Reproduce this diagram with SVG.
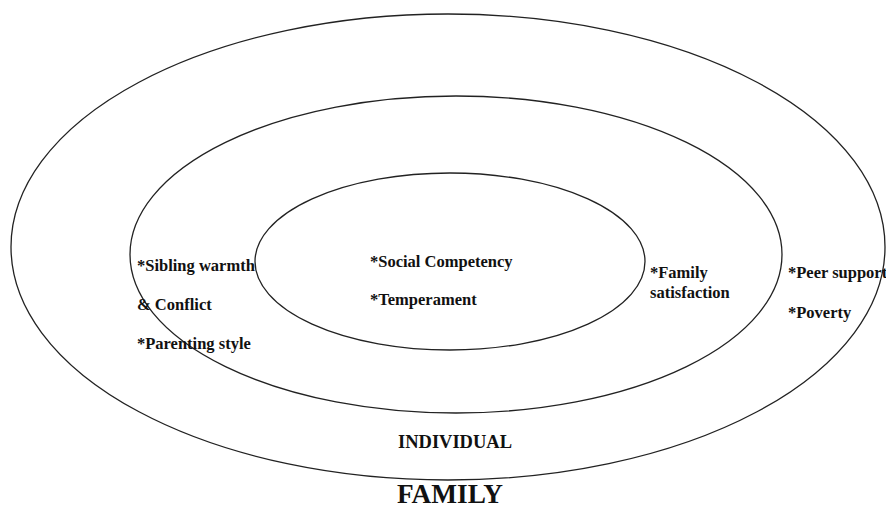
<svg xmlns="http://www.w3.org/2000/svg" width="886" height="509" viewBox="0 0 886 509">
  <style>
    .ring { fill: none; stroke: #222; stroke-width: 1.3; }
    .lbl { font-family: "Liberation Serif", "Times New Roman", serif; font-weight: bold; font-size: 16.5px; fill: #111; }
    .lvl { font-family: "Liberation Serif", "Times New Roman", serif; font-weight: bold; fill: #111; }
  </style>
  <rect width="886" height="509" fill="#fff"/>

  <!-- outer ring: family context -->
  <g id="family">
    <ellipse class="ring" cx="448" cy="247" rx="437" ry="233"/>
    <text class="lbl" x="788" y="278">*Peer support</text>
    <text class="lbl" x="788" y="318">*Poverty</text>
    <text class="lvl" x="397" y="503" font-size="27" textLength="106" lengthAdjust="spacingAndGlyphs">FAMILY</text>
  </g>

  <!-- middle ring: individual -->
  <g id="individual">
    <ellipse class="ring" cx="456" cy="254.5" rx="326" ry="158.5"/>
    <text class="lbl" x="137" y="271">*Sibling warmth</text>
    <text class="lbl" x="137" y="310">&amp; Conflict</text>
    <text class="lbl" x="137" y="349">*Parenting style</text>
    <text class="lbl" x="650" y="278">*Family</text>
    <text class="lbl" x="650" y="298">satisfaction</text>
    <text class="lvl" x="398" y="448" font-size="18" textLength="114" lengthAdjust="spacingAndGlyphs">INDIVIDUAL</text>
  </g>

  <!-- inner ring: child -->
  <g id="core">
    <ellipse class="ring" cx="450" cy="261.5" rx="195" ry="88.5"/>
    <text class="lbl" x="370" y="267">*Social Competency</text>
    <text class="lbl" x="370" y="305">*Temperament</text>
  </g>
</svg>
